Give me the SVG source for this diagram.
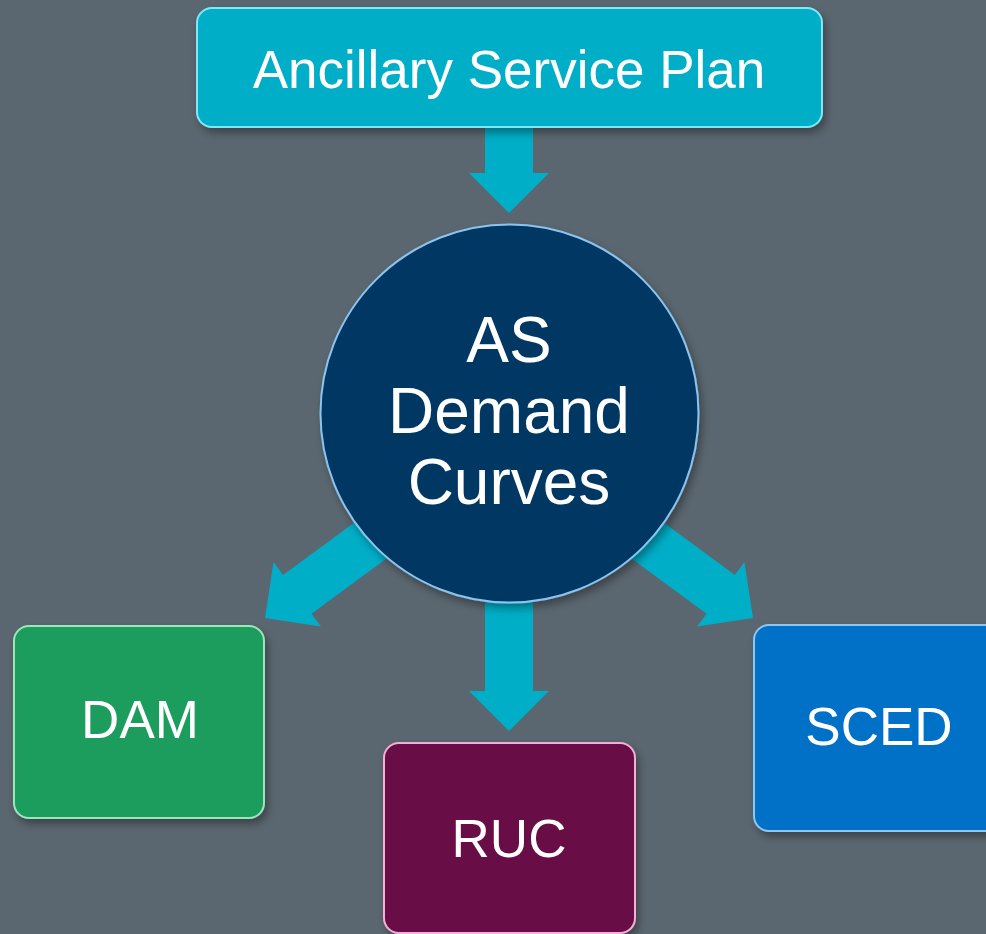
<svg xmlns="http://www.w3.org/2000/svg" width="986" height="934" viewBox="0 0 986 934">
  <defs>
    <filter id="shadow" x="-20%" y="-20%" width="140%" height="140%">
      <feDropShadow dx="3" dy="5" stdDeviation="4" flood-color="#000000" flood-opacity="0.35"/>
    </filter>
    <style>
      .label { font-family: "Liberation Sans", Arial, sans-serif; fill: #FFFFFF; text-anchor: middle; }
      .arrow { fill: #00AEC7; }
      .node { stroke-width: 2; filter: url(#shadow); }
    </style>
  </defs>
  <rect x="0" y="0" width="986" height="934" fill="#5B6770"/>

  <g id="connectors">
    <polygon class="arrow" points="485,126 533,126 533,173 549,173 509,213 469,173 485,173"/>
    <polygon class="arrow" points="485,560 533,560 533,691 549,691 509,731 469,691 485,691"/>
    <polygon class="arrow" transform="translate(265,618) rotate(143.7)" points="-250,-24 -40,-24 -40,-40 0,0 -40,40 -40,24 -250,24"/>
    <polygon class="arrow" transform="translate(753,618) rotate(36.3)" points="-250,-24 -40,-24 -40,-40 0,0 -40,40 -40,24 -250,24"/>
  </g>

  <g id="ancillary-service-plan">
    <rect class="node" x="197" y="8" width="625" height="119" rx="15" fill="#00AEC7" stroke="#7FE8F8"/>
    <text class="label" x="509" y="88" font-size="53">Ancillary Service Plan</text>
  </g>

  <g id="as-demand-curves">
    <circle class="node" cx="509.5" cy="413.5" r="189" fill="#003764" stroke="#8CC4EE"/>
    <text class="label" x="509" y="362" font-size="64">AS</text>
    <text class="label" x="509" y="433" font-size="64">Demand</text>
    <text class="label" x="509" y="504" font-size="64">Curves</text>
  </g>

  <g id="dam">
    <rect class="node" x="14" y="626" width="250" height="192" rx="15" fill="#1F9C5D" stroke="#9BE6BA"/>
    <text class="label" x="140" y="738" font-size="53">DAM</text>
  </g>

  <g id="ruc">
    <rect class="node" x="384" y="743" width="251" height="190" rx="15" fill="#680A44" stroke="#F2B0D4"/>
    <text class="label" x="509" y="857" font-size="53">RUC</text>
  </g>

  <g id="sced">
    <rect class="node" x="754" y="625" width="250" height="206" rx="15" fill="#0071C6" stroke="#8EC6F2"/>
    <text class="label" x="879" y="745" font-size="53">SCED</text>
  </g>
</svg>
